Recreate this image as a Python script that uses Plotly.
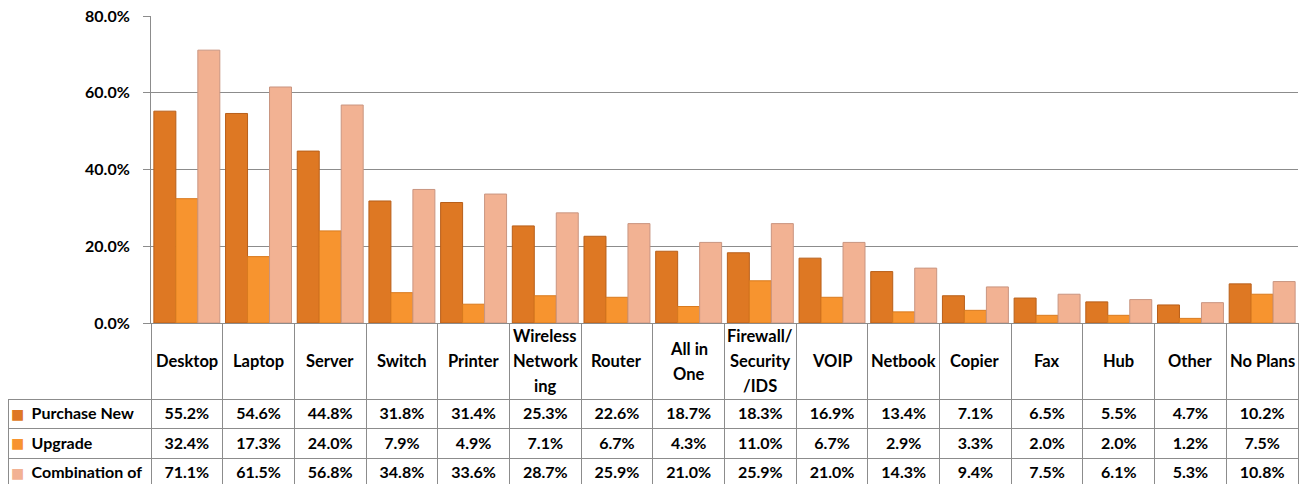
import plotly.graph_objects as go

categories = ["Desktop", "Laptop", "Server", "Switch", "Printer", "Wireless Networking",
              "Router", "All in One", "Firewall/ Security /IDS", "VOIP", "Netbook",
              "Copier", "Fax", "Hub", "Other", "No Plans"]
header_labels = ["Desktop", "Laptop", "Server", "Switch", "Printer", "Wireless<br>Network<br>ing",
                 "Router", "All in<br>One", "Firewall/<br>Security<br>/IDS", "VOIP", "Netbook",
                 "Copier", "Fax", "Hub", "Other", "No Plans"]
series_names = ["Purchase New", "Upgrade", "Combination of"]
purchase_new = [55.2, 54.6, 44.8, 31.8, 31.4, 25.3, 22.6, 18.7, 18.3, 16.9, 13.4, 7.1, 6.5, 5.5, 4.7, 10.2]
upgrade = [32.4, 17.3, 24.0, 7.9, 4.9, 7.1, 6.7, 4.3, 11.0, 6.7, 2.9, 3.3, 2.0, 2.0, 1.2, 7.5]
combination = [71.1, 61.5, 56.8, 34.8, 33.6, 28.7, 25.9, 21.0, 25.9, 21.0, 14.3, 9.4, 7.5, 6.1, 5.3, 10.8]
y_ticks = [0, 0.2, 0.4, 0.6, 0.8]

colors = ["#DE7823", "#F7942F", "#F2B293"]
edge_colors = ["#B85F1A", "#D97A1E", "#C99580"]
series = [purchase_new, upgrade, combination]

# page body has an 8px margin, so the figure is laid out 8px smaller
W, H = 1300, 476
FONT = "Lato"
GRID = "#8C8C8C"
CLEAR = "rgba(0,0,0,0)"

x0_px, x1_px = 143, 1290
y_top_px, y_zero_px = 8, 315
header_h, row_h = 76, 29.5

fig = go.Figure()
for name, vals, c, ec in zip(series_names, series, colors, edge_colors):
    fig.add_trace(go.Bar(
        x=categories, y=[v / 100 for v in vals], name=name,
        marker=dict(color=c, line=dict(color=ec, width=1)),
        showlegend=False, hoverinfo="y+name",
    ))

# data table under the chart
NB = "\u00a0"
first_col = [NB * 4 + nm.replace(" ", NB) for nm in series_names]
cols = [first_col]
for i in range(len(categories)):
    cols.append([f"{s[i]:.1f}%" for s in series])

n = len(categories)
cat_w = (x1_px - x0_px) / n
fig.add_trace(go.Table(
    domain=dict(x=[0, x1_px / W], y=[0, 1 - y_zero_px / H]),
    columnwidth=[x0_px] + [cat_w] * n,
    header=dict(values=[""] * (n + 1), height=header_h,
                fill_color=[CLEAR] + ["white"] * n,
                line=dict(color=[CLEAR] + [GRID] * n, width=1)),
    cells=dict(values=cols, height=row_h,
               align=["left"] + ["center"] * n,
               font=dict(family=FONT, size=16, color="black", weight="bold"),
               fill_color="white",
               line=dict(color=GRID, width=1)),
))

# legend keys in the table's first column
for i, c in enumerate(colors):
    yc = y_zero_px + header_h + row_h * (i + 0.5)
    fig.add_annotation(x=9 / W, xref="paper", y=1 - yc / H, yref="paper",
                       text="■", showarrow=False, xanchor="center", yanchor="middle",
                       borderpad=0,
                       font=dict(family="DejaVu Sans", size=14, color=c))

# category header labels (vertically centred in the header row)
LINE = 25
for lab, cat in zip(header_labels, categories):
    lines = lab.split("<br>")
    k = len(lines)
    for j, ln in enumerate(lines):
        yc = y_zero_px + header_h / 2 + (j - (k - 1) / 2) * LINE
        fig.add_annotation(x=cat, xref="x", y=1 - yc / H, yref="paper",
                           text=f"<b>{ln}</b>", showarrow=False, yanchor="middle",
                           font=dict(family=FONT, size=16.5, color="black"))

fig.update_layout(
    width=W, height=H,
    margin=dict(l=0, r=0, t=0, b=0, autoexpand=False),
    paper_bgcolor="white", plot_bgcolor="white",
    barmode="group", bargap=0.08, bargroupgap=0.0,
    font=dict(family=FONT, size=15, color="black"),
    xaxis=dict(domain=[x0_px / W, x1_px / W], showticklabels=False, showgrid=False,
               showline=True, linecolor=GRID, ticks="", zeroline=False, automargin=False),
    yaxis=dict(domain=[1 - y_zero_px / H, 1 - y_top_px / H], range=[0, 0.8],
               tickvals=y_ticks, tickformat=".1%", showgrid=True, gridcolor=GRID,
               gridwidth=1, showline=True, linecolor=GRID, ticks="outside",
               ticklen=7, tickcolor=GRID, zeroline=False, ticklabelstandoff=10,
               automargin=False, ticklabeloverflow="allow",
               tickfont=dict(family=FONT, size=16, weight="bold")),
)

fig.write_html("out.html")
